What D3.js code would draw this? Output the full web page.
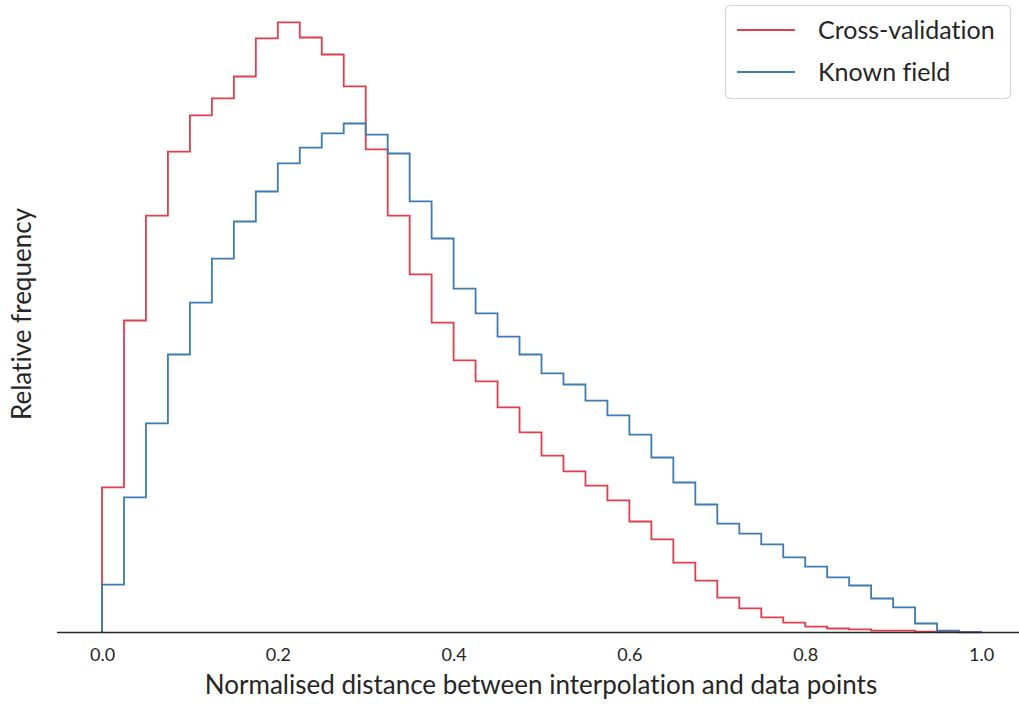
<!DOCTYPE html>
<html>
<head>
<meta charset="utf-8">
<script src="https://cdn.jsdelivr.net/npm/d3@7"></script>
<style>
  html, body { margin: 0; padding: 0; background: #fff; }
  svg { display: block; }
  text { font-family: Lato, "DejaVu Sans", sans-serif; fill: #262626; font-variant-ligatures: none; }
</style>
</head>
<body>
<svg id="chart" width="1019" height="705"></svg>
<script>
// Histogram bin edges: 40 equal bins on [0, 1]
const binCount = 40;
const binEdges = d3.range(binCount + 1).map(i => i / binCount);

// Relative frequency (density) per bin
const crossValidation = [
  0.614, 1.321, 1.765, 2.036, 2.189, 2.261, 2.354, 2.515, 2.583, 2.519,
  2.447, 2.312, 2.045, 1.765, 1.516, 1.312, 1.152, 1.063, 0.953, 0.847,
  0.749, 0.682, 0.622, 0.559, 0.470, 0.394, 0.296, 0.220, 0.148, 0.102,
  0.064, 0.042, 0.025, 0.017, 0.013, 0.008, 0.008, 0.004, 0.004, 0.002
];
const knownField = [
  0.203, 0.572, 0.885, 1.177, 1.397, 1.583, 1.740, 1.867, 1.986, 2.053,
  2.113, 2.155, 2.108, 2.028, 1.825, 1.668, 1.456, 1.351, 1.253, 1.177,
  1.097, 1.050, 0.982, 0.919, 0.838, 0.741, 0.635, 0.542, 0.461, 0.419,
  0.373, 0.318, 0.279, 0.233, 0.199, 0.144, 0.106, 0.038, 0.008, 0.001
];

const seriesNames = ["Cross-validation", "Known field"];
const seriesColors = ["#dd3f4c", "#3d7bb0"];
const xTicks = [0.0, 0.2, 0.4, 0.6, 0.8, 1.0];

const svg = d3.select("#chart");

const x = d3.scaleLinear().domain([-0.05, 1.05]).range([58.05, 1024.95]);
const baseY = 632.5;
const pxPerUnit = 236.2;
const yMax = 2.7;
const y = d3.scaleLinear().domain([0, yMax]).range([baseY, baseY - yMax * pxPerUnit]);

// Step outline of a histogram (no bottom edge), like histtype="step"
function stepPoints(values) {
  const pts = [[binEdges[0], 0]];
  values.forEach((v, i) => {
    pts.push([binEdges[i], v]);
    pts.push([binEdges[i + 1], v]);
  });
  pts.push([binEdges[binCount], 0]);
  return pts;
}

const line = d3.line().x(d => x(d[0])).y(d => y(d[1]));

[crossValidation, knownField].forEach((vals, k) => {
  svg.append("path")
    .attr("d", line(stepPoints(vals)))
    .attr("fill", "none")
    .attr("stroke", seriesColors[k])
    .attr("stroke-width", 1.8)
    .attr("stroke-linejoin", "miter");
});

// Bottom axis: spine plus tick labels, no tick marks
const xAxis = d3.axisBottom(x)
  .tickValues(xTicks)
  .tickFormat(d3.format(".1f"))
  .tickSize(0)
  .tickPadding(16);
const gx = svg.append("g")
  .attr("transform", `translate(0,${baseY})`)
  .call(xAxis);
gx.select(".domain").remove();
gx.selectAll("text")
  .style("font-family", "Lato, 'DejaVu Sans', sans-serif")
  .style("font-size", "18px")
  .attr("fill", "#262626");
svg.append("line")
  .attr("x1", 57).attr("x2", 1019)
  .attr("y1", baseY).attr("y2", baseY)
  .attr("stroke", "#262626")
  .attr("stroke-width", 1.5);

// Axis titles
svg.append("text")
  .attr("x", 541).attr("y", 694)
  .attr("text-anchor", "middle")
  .style("font-size", "26px")
  .text("Normalised distance between interpolation and data points");

svg.append("text")
  .attr("transform", "translate(31,314) rotate(-90)")
  .attr("text-anchor", "middle")
  .style("font-size", "26px")
  .text("Relative frequency");

// Legend
const legend = svg.append("g");
legend.append("rect")
  .attr("x", 725.5).attr("y", 5.5)
  .attr("width", 285).attr("height", 93)
  .attr("rx", 5).attr("ry", 5)
  .attr("fill", "#fff")
  .attr("stroke", "#d6d6d6")
  .attr("stroke-width", 1.2);
seriesNames.forEach((name, k) => {
  const ly = 30 + k * 42;
  legend.append("line")
    .attr("x1", 737).attr("x2", 795)
    .attr("y1", ly).attr("y2", ly)
    .attr("stroke", seriesColors[k])
    .attr("stroke-width", 1.8);
  legend.append("text")
    .attr("x", 818).attr("y", ly + 9)
    .style("font-size", "25px")
    .text(name);
});
</script>
</body>
</html>
